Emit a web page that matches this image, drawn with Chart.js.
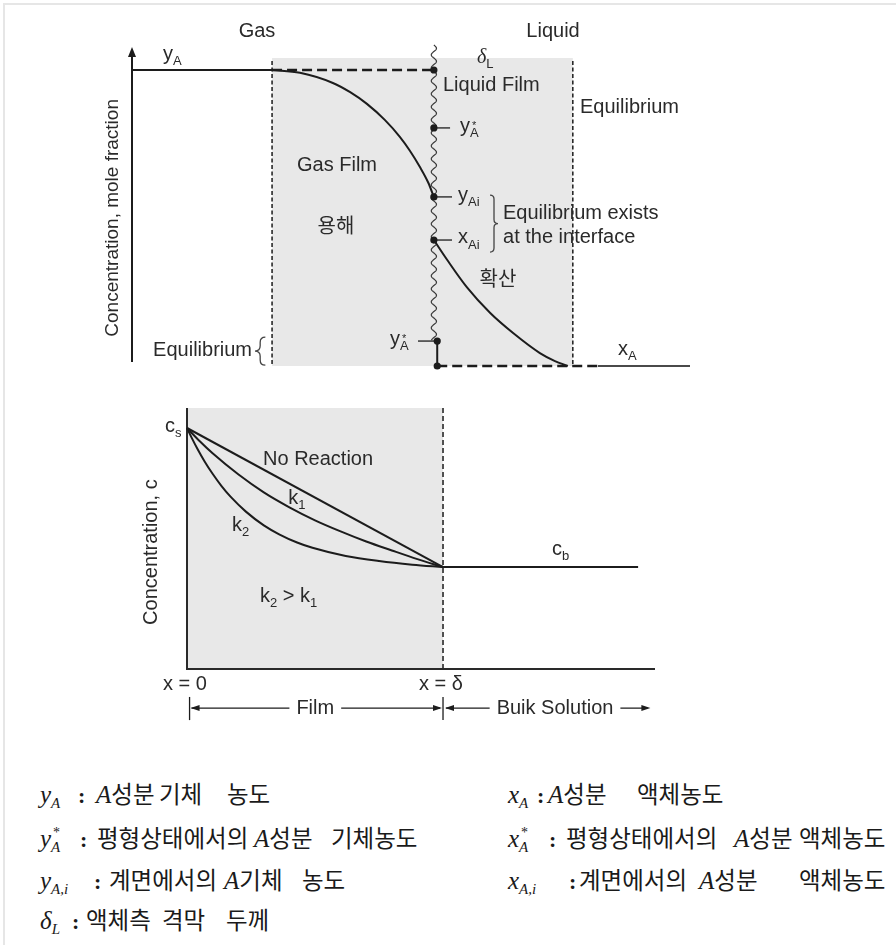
<!DOCTYPE html>
<html><head><meta charset="utf-8">
<script src="https://cdn.jsdelivr.net/npm/chart.js@4.4.1/dist/chart.umd.min.js"></script>
<style>
html,body{margin:0;padding:0;background:#fff;}
body{width:896px;height:945px;position:relative;overflow:hidden;}
#frame{position:absolute;left:3px;top:3px;width:900px;height:950px;border-top:2px solid #e6e6e6;border-left:2px solid #e6e6e6;}
canvas{position:absolute;left:0;}
#c1{top:0}
#c2{top:390px}
.t{position:absolute;white-space:nowrap;font-family:'Noto Sans CJK KR',sans-serif;font-size:23.5px;color:#1a1a1a;line-height:30px;height:30px;}
.mi{font-family:'Liberation Serif','DejaVu Serif',serif;font-style:italic;font-size:25px;}
.co{font-family:'Liberation Serif','DejaVu Serif',serif;font-size:22px;font-weight:bold;}
.sb{font-family:'Liberation Serif','DejaVu Serif',serif;font-style:italic;font-size:15px;position:relative;top:5px;}
.stk{display:inline-block;position:relative;width:13px;height:30px;vertical-align:top;}
.st{position:absolute;left:2px;top:4px;line-height:13px;font-family:'Liberation Serif',serif;font-size:14px;}
.sb2{position:absolute;left:0;top:18px;line-height:15px;font-family:'Liberation Serif',serif;font-style:italic;font-size:15px;}
</style></head>
<body>
<div id="frame"></div>
<canvas id="c1" width="896" height="390" style="width:896px;height:390px"></canvas>
<canvas id="c2" width="896" height="350" style="width:896px;height:350px"></canvas>

<!-- definitions, left column -->
<div class="t" style="left:40px;top:778px"><span class="mi">y</span><span class="sb">A</span></div>
<div class="t" style="left:78px;top:778px"><span class="co">:</span></div>
<div class="t" style="left:96px;top:778px"><span class="mi">A</span>성분</div>
<div class="t" style="left:159px;top:778px">기체</div>
<div class="t" style="left:227px;top:778px">농도</div>

<div class="t" style="left:40px;top:822px"><span class="mi">y</span><span class="stk"><span class="st">*</span><span class="sb2">A</span></span></div>
<div class="t" style="left:80px;top:822px"><span class="co">:</span></div>
<div class="t" style="left:97px;top:822px">평형상태에서의</div>
<div class="t" style="left:254px;top:822px"><span class="mi">A</span>성분</div>
<div class="t" style="left:331px;top:822px">기체농도</div>

<div class="t" style="left:40px;top:864px"><span class="mi">y</span><span class="sb">A,i</span></div>
<div class="t" style="left:94px;top:864px"><span class="co">:</span></div>
<div class="t" style="left:109px;top:864px">계면에서의</div>
<div class="t" style="left:224px;top:864px"><span class="mi">A</span>기체</div>
<div class="t" style="left:302px;top:864px">농도</div>

<div class="t" style="left:40px;top:904px"><span class="mi">δ</span><span class="sb">L</span></div>
<div class="t" style="left:72px;top:904px"><span class="co">:</span></div>
<div class="t" style="left:86px;top:904px">액체측</div>
<div class="t" style="left:162px;top:904px">격막</div>
<div class="t" style="left:226px;top:904px">두께</div>

<!-- definitions, right column -->
<div class="t" style="left:508px;top:778px"><span class="mi">x</span><span class="sb">A</span></div>
<div class="t" style="left:537px;top:778px"><span class="co">:</span></div>
<div class="t" style="left:548px;top:778px"><span class="mi">A</span>성분</div>
<div class="t" style="left:637px;top:778px">액체농도</div>

<div class="t" style="left:508px;top:822px"><span class="mi">x</span><span class="stk"><span class="st">*</span><span class="sb2">A</span></span></div>
<div class="t" style="left:549px;top:822px"><span class="co">:</span></div>
<div class="t" style="left:566px;top:822px">평형상태에서의</div>
<div class="t" style="left:734px;top:822px"><span class="mi">A</span>성분</div>
<div class="t" style="left:799px;top:822px">액체농도</div>

<div class="t" style="left:508px;top:864px"><span class="mi">x</span><span class="sb">A,i</span></div>
<div class="t" style="left:569px;top:864px"><span class="co">:</span></div>
<div class="t" style="left:579px;top:864px">계면에서의</div>
<div class="t" style="left:699px;top:864px"><span class="mi">A</span>성분</div>
<div class="t" style="left:799px;top:864px">액체농도</div>

<script>
// ================= DATA =================
// --- Top diagram: position (0..10) vs. mole fraction (0..1) ---
const gasFilmEdge = 2.51;     // gas-film boundary
const interfaceX = 5.41;      // gas-liquid interface
const liquidFilmEdge = 7.90;  // liquid-film boundary
const shadeTop = 1.0;

const bulkGasX = [0, 2.51];
const bulkGasY = [0.961, 0.961];
const yARefX = [2.51, 5.41];
const yARefY = [0.961, 0.961];
const gasFilmX = [2.51, 3.01, 3.60, 3.91, 4.21, 4.53, 4.80, 4.98, 5.16, 5.31, 5.41];
const gasFilmY = [0.961, 0.952, 0.919, 0.889, 0.851, 0.799, 0.744, 0.699, 0.646, 0.595, 0.549];
const liqFilmX = [5.41, 5.65, 6.00, 6.42, 6.83, 7.31, 7.58, 7.81];
const liqFilmY = [0.409, 0.344, 0.256, 0.172, 0.107, 0.042, 0.016, 0.000];
const eqDropX = [5.47, 5.47];
const eqDropY = [0.081, 0.000];
const baseDashX = [5.47, 8.35];
const baseDashY = [0, 0];
const bulkLiqX = [8.35, 10];
const bulkLiqY = [0, 0];
const markX = [5.41, 5.41, 5.41, 5.41, 5.47, 5.47];
const markY = [0.961, 0.773, 0.549, 0.409, 0.081, 0.000];

// --- Bottom diagram: x/δ vs. concentration (cs = 1) ---
const filmEnd = 1.0;     // x = δ
const cS = 1.0;
const cB = 0.423;
const noRxnX = [0, 1.0];
const noRxnY = [1.0, 0.423];
const k1X = [0, 0.05, 0.10, 0.20, 0.30, 0.40, 0.50, 0.60, 0.70, 0.80, 0.90, 1.0];
const k1Y = [1.0, 0.945, 0.895, 0.808, 0.733, 0.671, 0.617, 0.571, 0.529, 0.492, 0.456, 0.423];
const k2X = [0, 0.02, 0.04, 0.07, 0.10, 0.135, 0.17, 0.23, 0.30, 0.36, 0.43, 0.49, 0.62, 0.75, 0.88, 1.0];
const k2Y = [1.0, 0.956, 0.915, 0.859, 0.810, 0.759, 0.715, 0.653, 0.596, 0.559, 0.525, 0.503, 0.469, 0.448, 0.433, 0.423];
const bulkSolX = [1.0, 1.762];
const bulkSolY = [0.423, 0.423];
const dimX = [0.01, 1.0, 1.81]; // film start, x = δ, end of bulk arrow

// ================= STYLE / HELPERS =================
const INK = '#1c1c1c';
const TXT = '#2a2a2a';
const SHADE = '#e8e8e8';
const SANS = "'Liberation Sans', Arial, Helvetica, sans-serif";
const SERIF = "'Liberation Serif', 'DejaVu Serif', serif";
const KR = "'Noto Sans CJK KR', sans-serif";

function series(xs, ys) { return xs.map((x, i) => ({x: x, y: ys[i]})); }
function lineDs(xs, ys, extra) {
  return Object.assign({data: series(xs, ys), showLine: true, borderColor: INK, borderWidth: 2,
    pointRadius: 0, fill: false, clip: false, borderCapStyle: 'butt'}, extra || {});
}
function fontFor(s, size) {
  const sz = s.sub ? Math.round(size * 0.65) : size;
  const fam = s.kr ? KR : (s.it ? SERIF : SANS);
  return (s.it ? 'italic ' : '') + sz + 'px ' + fam;
}
function drawLabel(ctx, X, Y, L) {
  const size = L.size || 20;
  const segs = L.parts.map(p => typeof p === 'string' ? {t: p} : Object.assign({}, p));
  let total = 0;
  segs.forEach(s => { ctx.font = fontFor(s, size); s.w = ctx.measureText(s.t).width; total += s.w; });
  let cx = X(L.x);
  if (L.align === 'center') cx -= total / 2; else if (L.align === 'right') cx -= total;
  const by = Y(L.y);
  ctx.textAlign = 'left';
  ctx.textBaseline = L.baseline || 'alphabetic';
  ctx.fillStyle = TXT;
  segs.forEach(s => {
    ctx.font = fontFor(s, size);
    ctx.fillText(s.t, cx, by + (s.sub ? size * 0.27 : 0));
    if (s.sup) { ctx.font = Math.round(size * 0.55) + 'px ' + SANS; ctx.fillText(s.sup, cx + 2, by - 3); }
    cx += s.w;
  });
}
function brace(ctx, x0, x1, yt, yb, dir) {
  const ym = (yt + yb) / 2, xm = (x0 + x1) / 2, r = Math.abs(x1 - x0) / 2;
  const xo = dir === 'right' ? x0 : x1, xt = dir === 'right' ? x1 : x0;
  ctx.beginPath();
  ctx.moveTo(xo, yt);
  ctx.quadraticCurveTo(xm, yt, xm, yt + r);
  ctx.lineTo(xm, ym - r);
  ctx.quadraticCurveTo(xm, ym, xt, ym);
  ctx.quadraticCurveTo(xm, ym, xm, ym + r);
  ctx.lineTo(xm, yb - r);
  ctx.quadraticCurveTo(xm, yb, xo, yb);
  ctx.stroke();
}
function arrowHead(ctx, x, y, dir) {
  ctx.beginPath();
  ctx.moveTo(x, y);
  ctx.lineTo(x - dir * 9, y - 3);
  ctx.lineTo(x - dir * 9, y + 3);
  ctx.closePath();
  ctx.fill();
}
function rotatedTitle(ctx, text, x, y, size) {
  ctx.save();
  ctx.translate(x, y);
  ctx.rotate(-Math.PI / 2);
  ctx.font = size + 'px ' + SANS;
  ctx.fillStyle = TXT;
  ctx.textAlign = 'center';
  ctx.textBaseline = 'middle';
  ctx.fillText(text, 0, 0);
  ctx.restore();
}

// ================= TOP DIAGRAM =================
const topLabels = [
  {x: 2.24, y: 1.068, align: 'center', parts: ['Gas']},
  {x: 7.545, y: 1.068, align: 'center', parts: ['Liquid']},
  {x: 0.556, y: 0.994, parts: ['y', {t: 'A', sub: true}]},
  {x: 6.183, y: 0.984, parts: [{t: 'δ', it: true}, {t: 'L', sub: true}]},
  {x: 5.573, y: 0.893, parts: ['Liquid Film']},
  {x: 8.029, y: 0.821, parts: ['Equilibrium']},
  {x: 5.878, y: 0.760, parts: ['y', {t: 'A', sub: true, sup: '*'}]},
  {x: 3.674, y: 0.633, align: 'center', parts: ['Gas Film']},
  {x: 3.656, y: 0.458, align: 'center', baseline: 'middle', parts: [{t: '용해', kr: true}]},
  {x: 5.842, y: 0.536, parts: ['y', {t: 'Ai', sub: true}]},
  {x: 5.842, y: 0.399, parts: ['x', {t: 'Ai', sub: true}]},
  {x: 6.649, y: 0.477, parts: ['Equilibrium exists']},
  {x: 6.649, y: 0.399, parts: ['at the interface']},
  {x: 6.559, y: 0.286, align: 'center', baseline: 'middle', parts: [{t: '확산', kr: true}]},
  {x: 2.151, y: 0.032, align: 'right', parts: ['Equilibrium']},
  {x: 4.624, y: 0.068, parts: ['y', {t: 'A', sub: true, sup: '*'}]},
  {x: 8.710, y: 0.036, parts: ['x', {t: 'A', sub: true}]}
];
const topLeaders = [[5.41, 5.70, 0.773], [5.41, 5.735, 0.549], [5.41, 5.735, 0.409], [5.125, 5.466, 0.081]];

const topDecor = {
  id: 'topDecor',
  beforeDatasetsDraw(chart) {
    const ctx = chart.ctx, X = v => chart.scales.x.getPixelForValue(v), Y = v => chart.scales.y.getPixelForValue(v);
    ctx.save();
    ctx.fillStyle = SHADE;
    ctx.fillRect(X(gasFilmEdge), Y(shadeTop), X(liquidFilmEdge) - X(gasFilmEdge), Y(0) - Y(shadeTop));
    ctx.strokeStyle = INK; ctx.lineWidth = 1.5; ctx.setLineDash([4, 2.5]);
    [gasFilmEdge, liquidFilmEdge].forEach(v => {
      ctx.beginPath(); ctx.moveTo(X(v), Y(0.99)); ctx.lineTo(X(v), Y(0)); ctx.stroke();
    });
    ctx.setLineDash([]);
    ctx.strokeStyle = '#3a3a3a'; ctx.lineWidth = 1.2;
    const ix = X(interfaceX), yt = Y(1.042), yb = Y(0.084);
    ctx.beginPath();
    for (let yy = yt; yy <= yb; yy += 0.5) {
      const xx = ix + 2.6 * Math.sin((yy - yt) / 13 * 2 * Math.PI);
      if (yy === yt) ctx.moveTo(xx, yy); else ctx.lineTo(xx, yy);
    }
    ctx.stroke();
    ctx.strokeStyle = INK; ctx.fillStyle = INK; ctx.lineWidth = 2;
    ctx.beginPath(); ctx.moveTo(X(0), Y(0.013)); ctx.lineTo(X(0), Y(1.005)); ctx.stroke();
    ctx.beginPath(); ctx.moveTo(X(0), Y(1.036)); ctx.lineTo(X(0) - 4, Y(1.003)); ctx.lineTo(X(0) + 4, Y(1.003)); ctx.closePath(); ctx.fill();
    ctx.restore();
  },
  afterDatasetsDraw(chart) {
    const ctx = chart.ctx, X = v => chart.scales.x.getPixelForValue(v), Y = v => chart.scales.y.getPixelForValue(v);
    ctx.save();
    ctx.strokeStyle = INK; ctx.lineWidth = 1.3;
    topLeaders.forEach(l => { ctx.beginPath(); ctx.moveTo(X(l[0]), Y(l[2])); ctx.lineTo(X(l[1]), Y(l[2])); ctx.stroke(); });
    ctx.strokeStyle = '#444'; ctx.lineWidth = 1.3;
    brace(ctx, X(6.416), X(6.559), Y(0.555), Y(0.370), 'right');
    brace(ctx, X(2.204), X(2.39), Y(0.094), Y(0.003), 'left');
    topLabels.forEach(L => drawLabel(ctx, X, Y, L));
    rotatedTitle(ctx, 'Concentration, mole fraction', X(-0.341), Y(0.481), 19);
    ctx.restore();
  }
};

new Chart(document.getElementById('c1'), {
  type: 'scatter',
  data: {datasets: [
    {data: series(markX, markY), showLine: false, pointRadius: 3.6, pointBackgroundColor: INK, pointBorderWidth: 0, clip: false},
    lineDs(gasFilmX, gasFilmY, {cubicInterpolationMode: 'monotone'}),
    lineDs(liqFilmX, liqFilmY, {cubicInterpolationMode: 'monotone'}),
    lineDs(bulkGasX, bulkGasY),
    lineDs(yARefX, yARefY, {borderDash: [10, 5], borderWidth: 2.5}),
    lineDs(eqDropX, eqDropY),
    lineDs(baseDashX, baseDashY, {borderDash: [10, 5], borderWidth: 2.5}),
    lineDs(bulkLiqX, bulkLiqY, {borderColor: '#4a4a4a'})
  ]},
  options: {
    responsive: false, animation: false, devicePixelRatio: 1, events: [],
    layout: {padding: {left: 132, right: 206, top: 46, bottom: 24}},
    plugins: {legend: {display: false}, tooltip: {enabled: false}, title: {display: false}},
    scales: {
      x: {type: 'linear', min: 0, max: 10, display: false},
      y: {type: 'linear', min: 0, max: 1.039, display: false}
    }
  },
  plugins: [topDecor]
});

// ================= BOTTOM DIAGRAM =================
const botLabels = [
  {x: -0.086, y: 0.983, parts: ['c', {t: 's', sub: true}]},
  {x: 0.297, y: 0.846, parts: ['No Reaction']},
  {x: 0.395, y: 0.685, parts: ['k', {t: '1', sub: true}]},
  {x: 0.176, y: 0.573, parts: ['k', {t: '2', sub: true}]},
  {x: 0.285, y: 0.278, parts: ['k', {t: '2', sub: true}, ' > k', {t: '1', sub: true}]},
  {x: 1.426, y: 0.473, parts: ['c', {t: 'b', sub: true}]},
  {x: -0.008, y: -0.087, align: 'center', parts: ['x = 0']},
  {x: 0.992, y: -0.087, align: 'center', parts: ['x = δ']}
];

const botDecor = {
  id: 'botDecor',
  beforeDatasetsDraw(chart) {
    const ctx = chart.ctx, ys = chart.scales.y, X = v => chart.scales.x.getPixelForValue(v), Y = v => ys.getPixelForValue(v);
    ctx.save();
    ctx.fillStyle = SHADE;
    ctx.fillRect(X(0), Y(ys.max), X(filmEnd) - X(0), Y(0) - Y(ys.max));
    ctx.strokeStyle = INK; ctx.lineWidth = 1.5; ctx.setLineDash([5, 3]);
    ctx.beginPath(); ctx.moveTo(X(filmEnd), Y(ys.max)); ctx.lineTo(X(filmEnd), Y(0)); ctx.stroke();
    ctx.setLineDash([]);
    ctx.lineWidth = 2; ctx.strokeStyle = '#2a2a2a';
    ctx.beginPath(); ctx.moveTo(X(0), Y(ys.max)); ctx.lineTo(X(0), Y(0)); ctx.lineTo(X(chart.scales.x.max), Y(0)); ctx.stroke();
    ctx.restore();
  },
  afterDatasetsDraw(chart) {
    const ctx = chart.ctx, X = v => chart.scales.x.getPixelForValue(v), Y = v => chart.scales.y.getPixelForValue(v);
    ctx.save();
    botLabels.forEach(L => drawLabel(ctx, X, Y, L));
    rotatedTitle(ctx, 'Concentration, c', X(-0.137), Y(0.485), 20);
    const dy = Y(-0.162);
    ctx.strokeStyle = INK; ctx.fillStyle = INK; ctx.lineWidth = 1.3;
    [dimX[0], dimX[1]].forEach(v => { ctx.beginPath(); ctx.moveTo(X(v), Y(-0.116)); ctx.lineTo(X(v), Y(-0.212)); ctx.stroke(); });
    ctx.font = '20px ' + SANS; ctx.textAlign = 'center'; ctx.textBaseline = 'alphabetic';
    const pad = 7;
    const fx = (X(dimX[0]) + X(dimX[1])) / 2 - 1, fw = ctx.measureText('Film').width / 2 + pad;
    ctx.beginPath(); ctx.moveTo(X(dimX[0]) + 2, dy); ctx.lineTo(fx - fw, dy); ctx.moveTo(fx + fw, dy); ctx.lineTo(X(dimX[1]) - 3, dy); ctx.stroke();
    arrowHead(ctx, X(dimX[0]) + 1, dy, -1);
    arrowHead(ctx, X(dimX[1]) - 1, dy, 1);
    ctx.fillStyle = TXT; ctx.fillText('Film', fx, Y(-0.187));
    const bx = X(1.4375), bw = ctx.measureText('Buik Solution').width / 2 + pad;
    ctx.fillStyle = INK;
    ctx.beginPath(); ctx.moveTo(X(dimX[1]) + 3, dy); ctx.lineTo(bx - bw, dy); ctx.moveTo(bx + bw, dy); ctx.lineTo(X(dimX[2]) - 3, dy); ctx.stroke();
    arrowHead(ctx, X(dimX[1]) + 2, dy, -1);
    arrowHead(ctx, X(dimX[2]), dy, 1);
    ctx.fillStyle = TXT; ctx.fillText('Buik Solution', bx, Y(-0.187));
    ctx.restore();
  }
};

new Chart(document.getElementById('c2'), {
  type: 'scatter',
  data: {datasets: [
    lineDs(noRxnX, noRxnY),
    lineDs(k1X, k1Y, {cubicInterpolationMode: 'monotone'}),
    lineDs(k2X, k2Y, {cubicInterpolationMode: 'monotone'}),
    lineDs(bulkSolX, bulkSolY)
  ]},
  options: {
    responsive: false, animation: false, devicePixelRatio: 1, events: [],
    layout: {padding: {left: 187, right: 241, top: 18, bottom: 71}},
    plugins: {legend: {display: false}, tooltip: {enabled: false}, title: {display: false}},
    scales: {
      x: {type: 'linear', min: 0, max: 1.828, display: false},
      y: {type: 'linear', min: 0, max: 1.083, display: false}
    }
  },
  plugins: [botDecor]
});
</script>
</body></html>
